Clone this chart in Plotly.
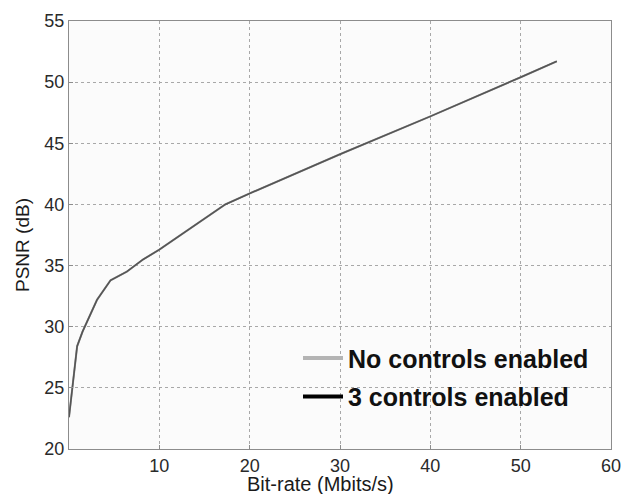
import plotly.graph_objects as go

# Data
bitrate_none = [0, 0.5, 0.9, 1.5, 3.1, 4.6, 6.4, 8.2, 10, 17.3, 20, 30, 40, 50, 54]
psnr_none = [22.6, 25.6, 28.4, 29.6, 32.2, 33.8, 34.5, 35.5, 36.3, 40.0, 40.9, 44.1, 47.2, 50.4, 51.7]
bitrate_3ctrl = [0, 0.5, 0.9, 1.5, 3.1, 4.6, 6.4, 8.2, 10, 17.3, 20, 30, 40, 50, 54]
psnr_3ctrl = [22.6, 25.6, 28.4, 29.6, 32.2, 33.8, 34.5, 35.5, 36.3, 40.0, 40.9, 44.1, 47.2, 50.4, 51.7]

x_ticks = [10, 20, 30, 40, 50, 60]
y_ticks = [20, 25, 30, 35, 40, 45, 50, 55]
series_names = ["No controls enabled", "3 controls enabled"]

FONT = "Arial, Liberation Sans, Helvetica, sans-serif"

# page body has an 8px margin; compensate so plot area lands at 69..611 x 21..449
OFF = 8
L, T, R, B = 69 - OFF, 21 - OFF, 23, 45
W, H = 634 - OFF, 494 - OFF
PW, PH = 542, 428

fig = go.Figure()
fig.add_trace(go.Scatter(x=bitrate_none, y=psnr_none, mode="lines",
                         line=dict(color="#9a9a9a", width=2), showlegend=False))
fig.add_trace(go.Scatter(x=bitrate_3ctrl, y=psnr_3ctrl, mode="lines",
                         line=dict(color="#555555", width=1.6), showlegend=False))
# legend entries
fig.add_trace(go.Scatter(x=[None], y=[None], mode="lines", name=series_names[0],
                         line=dict(color="#b4b4b4", width=4), legendgroup="a"))
fig.add_trace(go.Scatter(x=[None], y=[None], mode="lines", name=series_names[1],
                         line=dict(color="#000000", width=4), legendgroup="b"))

fig.update_layout(
    width=W, height=H,
    margin=dict(l=L, r=R, t=T, b=B, autoexpand=False),
    paper_bgcolor="#ffffff",
    plot_bgcolor="#fbfbfb",
    font=dict(family=FONT, size=18, color="#2a2a2a"),
    legend=dict(x=(298 - 69) / PW, y=0.266, xanchor="left", yanchor="top",
                bgcolor="rgba(0,0,0,0)", borderwidth=0,
                font=dict(family=FONT, size=25, color="#111111", weight="bold"),
                tracegroupgap=3, traceorder="grouped", itemwidth=40),
    showlegend=True,
)
axis_style = dict(showgrid=True, gridcolor="#a8a8a8", griddash="dot", gridwidth=1,
                  showline=True, linecolor="#8c8c8c", linewidth=1, mirror=True,
                  ticks="inside", ticklen=4, tickcolor="#8c8c8c", automargin=False,
                  zeroline=False, tickfont=dict(size=18, color="#2a2a2a"))
fig.update_xaxes(range=[0, 60], tickvals=x_ticks, ticktext=[str(v) for v in x_ticks], **axis_style)
fig.update_yaxes(range=[20, 55], tickvals=y_ticks, ticktext=[str(v) for v in y_ticks], **axis_style)

fig.add_annotation(text="Bit-rate (Mbits/s)", xref="paper", yref="paper",
                   x=(320 - 69) / PW, y=-(484 - 449) / PH, xanchor="center", yanchor="middle",
                   showarrow=False, font=dict(family=FONT, size=20, color="#1a1a1a"))
fig.add_annotation(text="PSNR (dB)", xref="paper", yref="paper",
                   x=-(69 - 22) / PW, y=(449 - 245) / PH, xanchor="center", yanchor="middle",
                   textangle=-90, showarrow=False, font=dict(family=FONT, size=19, color="#1a1a1a"))

fig.write_html("out.html")
